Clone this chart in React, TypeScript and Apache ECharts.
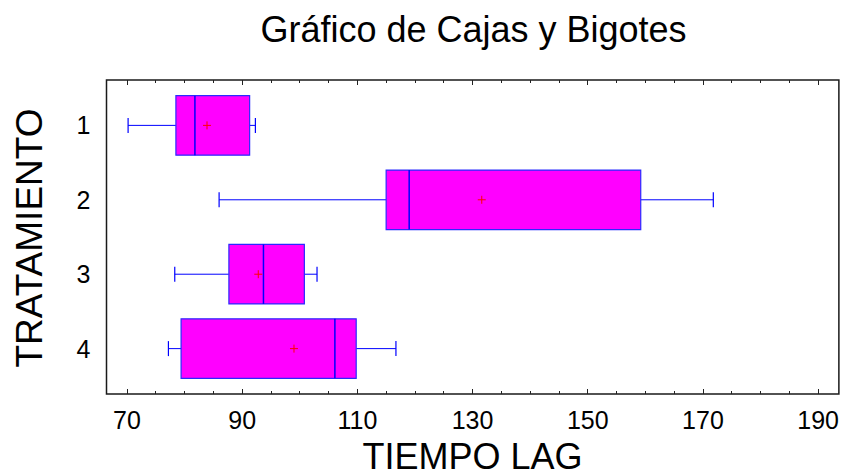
import React, { useEffect, useRef } from "react";
import * as echarts from "echarts";

// Tratamientos (eje vertical, de arriba hacia abajo)
const tratamientos = ["1", "2", "3", "4"];
// Resumen de cinco números y media de TIEMPO LAG por tratamiento
const minimo = [70.2, 86.0, 78.3, 77.2];
const cuartil1 = [78.5, 115.0, 87.7, 79.4];
const mediana = [81.8, 119.0, 93.7, 106.1];
const cuartil3 = [91.3, 159.2, 100.8, 109.8];
const maximo = [92.3, 171.8, 103.0, 116.7];
const media = [83.9, 131.6, 92.8, 99.0];

// Marcas del eje horizontal
const etiquetasX = [70, 90, 110, 130, 150, 170, 190];
const marcasMenores = [75, 80, 85, 95, 100, 105, 115, 120, 125, 135, 140, 145, 155, 160, 165, 175, 180, 185];

const FONT = "'Liberation Sans', Arial, sans-serif";
const X_MIN = 66.45;
const X_MAX = 193.6;

export default function App() {
  const ref = useRef<HTMLDivElement>(null);

  useEffect(() => {
    if (!ref.current) return;
    const chart = echarts.init(ref.current, undefined, { renderer: "svg" });

    const data = tratamientos.map((_, i) => [
      i + 1,
      minimo[i],
      cuartil1[i],
      mediana[i],
      cuartil3[i],
      maximo[i],
      media[i],
    ]);

    const baseX = (position: "top" | "bottom", values: number[], len: number, labels: boolean) => ({
      type: "value",
      position,
      min: X_MIN,
      max: X_MAX,
      axisLine: { show: false, onZero: false },
      splitLine: { show: false },
      axisTick: {
        show: true,
        inside: true,
        length: len,
        customValues: values,
        lineStyle: { color: "#222", width: 1 },
      },
      axisLabel: labels
        ? {
            show: true,
            customValues: etiquetasX,
            fontFamily: FONT,
            fontSize: 25,
            color: "#000",
            margin: 13,
          }
        : { show: false },
    });

    const renderBox = (params: any, api: any) => {
      const y = api.value(0);
      const lo = api.value(1);
      const q1 = api.value(2);
      const med = api.value(3);
      const q3 = api.value(4);
      const hi = api.value(5);
      const mean = api.value(6);
      const half = 0.4;
      const pLo = api.coord([lo, y]);
      const pQ1 = api.coord([q1, y]);
      const pQ3 = api.coord([q3, y]);
      const pHi = api.coord([hi, y]);
      const pMed = api.coord([med, y]);
      const pMean = api.coord([mean, y]);
      const top = api.coord([q1, y - half])[1];
      const bottom = api.coord([q1, y + half])[1];
      const cap = 7.5;
      const blue = "#0000ff";
      const line = (x1: number, y1: number, x2: number, y2: number, color: string, w: number) => ({
        type: "line",
        shape: { x1, y1, x2, y2 },
        style: { stroke: color, lineWidth: w },
      });
      return {
        type: "group",
        children: [
          line(pLo[0], pLo[1], pQ1[0], pQ1[1], blue, 1),
          line(pQ3[0], pQ3[1], pHi[0], pHi[1], blue, 1),
          line(pLo[0], pLo[1] - cap, pLo[0], pLo[1] + cap, blue, 1.2),
          line(pHi[0], pHi[1] - cap, pHi[0], pHi[1] + cap, blue, 1.2),
          {
            type: "rect",
            shape: { x: pQ1[0], y: top, width: pQ3[0] - pQ1[0], height: bottom - top },
            style: { fill: "#ff00ff", stroke: "#2a2aff", lineWidth: 1.2 },
          },
          line(pMed[0], top, pMed[0], bottom, blue, 1.5),
          line(pMean[0] - 4, pMean[1], pMean[0] + 4, pMean[1], "#ff0000", 1),
          line(pMean[0], pMean[1] - 4, pMean[0], pMean[1] + 4, "#ff0000", 1),
        ],
      };
    };

    chart.setOption({
      animation: false,
      backgroundColor: "#fff",
      grid: {
        left: 106.5,
        top: 80,
        width: 732.8,
        height: 314,
        show: true,
        borderColor: "#1a1a1a",
        borderWidth: 1.5,
        backgroundColor: "transparent",
      },
      xAxis: [
        baseX("bottom", etiquetasX, 5, true),
        baseX("bottom", marcasMenores, 3, false),
        baseX("top", etiquetasX, 5, false),
        baseX("top", marcasMenores, 3, false),
      ],
      yAxis: {
        type: "value",
        inverse: true,
        min: 0.39,
        max: 4.61,
        axisLine: { show: false },
        axisTick: { show: false },
        splitLine: { show: false },
        axisLabel: {
          customValues: [1, 2, 3, 4],
          formatter: (v: number) => tratamientos[Math.round(v) - 1] ?? "",
          fontFamily: FONT,
          fontSize: 25,
          color: "#000",
          margin: 16,
        },
      },
      series: [
        {
          type: "custom",
          xAxisIndex: 0,
          yAxisIndex: 0,
          renderItem: renderBox,
          encode: { x: [1, 2, 3, 4, 5, 6], y: 0 },
          data,
        },
      ],
      graphic: [
        {
          type: "text",
          x: 473.5,
          y: 29,
          style: {
            text: "Gráfico de Cajas y Bigotes",
            fontFamily: FONT,
            fontSize: 36,
            fill: "#000",
            align: "center",
            verticalAlign: "middle",
          },
        },
        {
          type: "text",
          x: 472.5,
          y: 456,
          style: {
            text: "TIEMPO LAG",
            fontFamily: FONT,
            fontSize: 36,
            fill: "#000",
            align: "center",
            verticalAlign: "middle",
          },
        },
        {
          type: "text",
          x: 29.5,
          y: 238,
          rotation: Math.PI / 2,
          style: {
            text: "TRATAMIENTO",
            fontFamily: FONT,
            fontSize: 37,
            fill: "#000",
            align: "center",
            verticalAlign: "middle",
          },
        },
      ],
    });

    return () => chart.dispose();
  }, []);

  return <div ref={ref} style={{ width: 842, height: 475, position: "absolute", left: 0, top: 0 }} />;
}
